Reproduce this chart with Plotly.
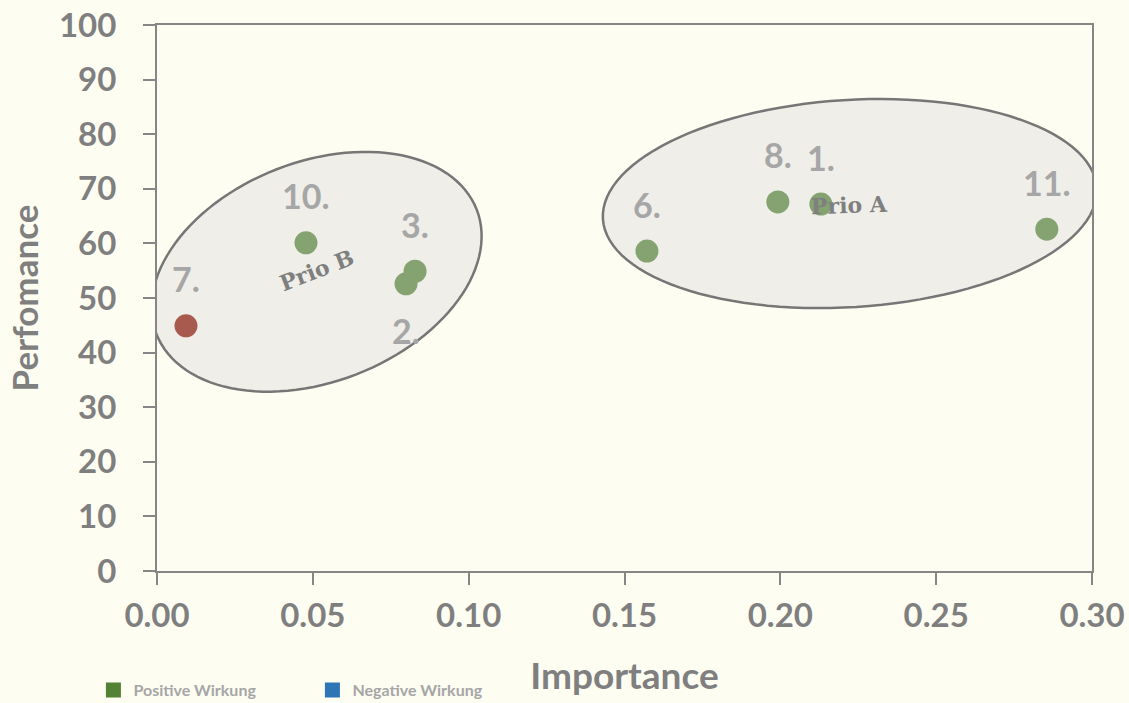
import numpy as np
import plotly.graph_objects as go

# ---- data ----
labels = ["1.", "2.", "3.", "6.", "7.", "8.", "10.", "11."]
importance = [0.213, 0.0799, 0.0828, 0.1572, 0.0093, 0.1992, 0.0478, 0.2855]
performance = [67.2, 52.6, 54.9, 58.6, 44.9, 67.6, 60.1, 62.6]
point_colors = ["#84A371", "#84A371", "#84A371", "#84A371", "#A95A4E", "#84A371", "#84A371", "#84A371"]
label_side = [1, -1, 1, 1, 1, 1, 1, 1]   # +1 above, -1 below

x_ticks = [0.00, 0.05, 0.10, 0.15, 0.20, 0.25, 0.30]
y_ticks = [0, 10, 20, 30, 40, 50, 60, 70, 80, 90, 100]

legend_names = ["Positive Wirkung", "Negative Wirkung"]
legend_colors = ["#548235", "#2E75B6"]

# cluster ellipses: name, centre (x,y), semi-axes (px), rotation (deg), label angle
clusters = [
    dict(name="Prio A", cx=0.2223, cy=67.3, a=247.4, b=103.6, rot=3.6, tx=0.2223, ty=67.0, angle=-2),
    dict(name="Prio B", cx=0.0512, cy=54.8, a=171.8, b=110.0, rot=21.2, tx=0.0513, ty=55.1, angle=-21),
]

# ---- layout geometry ----
W, H = 1129, 703
ml, mr, mt, mb = 157, 37, 25, 132
pw, ph = W - ml - mr, H - mt - mb
xr, yr = [0, 0.30], [0, 100]
kx = pw / (xr[1] - xr[0])
ky = ph / (yr[1] - yr[0])

GRAY = "#7F7F7F"
LGRAY = "#A6A6A6"
AX = "#868686"
BG = "#FDFDF2"
FONT = "Lato"

fig = go.Figure()

shapes = []
for c in clusters:
    t = np.linspace(0, 2 * np.pi, 121)
    th = np.radians(c["rot"])
    dx = c["a"] * np.cos(t) * np.cos(th) - c["b"] * np.sin(t) * np.sin(th)
    dy = c["a"] * np.cos(t) * np.sin(th) + c["b"] * np.sin(t) * np.cos(th)
    xs = c["cx"] + dx / kx
    ys = c["cy"] + dy / ky
    path = "M " + " L ".join(f"{x:.6f},{y:.4f}" for x, y in zip(xs, ys)) + " Z"
    shapes.append(dict(type="path", path=path, xref="x", yref="y", layer="below",
                       fillcolor="#EFEEE8", line=dict(color="#767676", width=2.5)))

fig.add_trace(go.Scatter(
    x=importance, y=performance, mode="markers",
    marker=dict(size=23, color=point_colors, line=dict(width=0)),
    showlegend=False, hoverinfo="x+y",
))

for n, col in zip(legend_names, legend_colors):
    fig.add_trace(go.Scatter(x=[None], y=[None], mode="markers", name=n,
                             marker=dict(symbol="square", size=15, color=col)))

annotations = []
for lab, x, y, s in zip(labels, importance, performance, label_side):
    annotations.append(dict(x=x, y=y, text=lab, showarrow=False, xref="x", yref="y",
                            yshift=47 * s, xanchor="center", yanchor="middle",
                            font=dict(family=FONT, size=34, color=LGRAY, weight="bold")))
for c in clusters:
    annotations.append(dict(x=c["tx"], y=c["ty"], text=c["name"], showarrow=False,
                            xref="x", yref="y", textangle=c["angle"],
                            font=dict(family="DejaVu Serif", size=22, color=GRAY, weight="bold")))

fig.update_layout(
    width=W, height=H,
    margin=dict(l=ml, r=mr, t=mt, b=mb, autoexpand=False),
    paper_bgcolor=BG, plot_bgcolor=BG,
    shapes=shapes, annotations=annotations,
    showlegend=True,
    legend=dict(orientation="h", x=-0.068, y=-0.218, xanchor="left", yanchor="middle",
                font=dict(family=FONT, size=16, color=LGRAY, weight="bold"),
                entrywidth=174, entrywidthmode="pixels", bgcolor="rgba(0,0,0,0)",
                itemclick=False, itemdoubleclick=False),
    xaxis=dict(range=xr, tickvals=x_ticks, ticktext=[f"{v:.2f}" for v in x_ticks],
               showgrid=False, zeroline=False, showline=True, linecolor=AX, linewidth=2,
               mirror=True, ticks="outside", ticklen=12, tickwidth=1.5, tickcolor=AX,
               ticklabelstandoff=2,
               tickfont=dict(family=FONT, size=33, color=GRAY, weight="bold"),
               title=dict(text="Importance", standoff=31,
                          font=dict(family=FONT, size=37, color=GRAY, weight="bold"))),
    yaxis=dict(range=yr, tickvals=y_ticks,
               showgrid=False, zeroline=False, showline=True, linecolor=AX, linewidth=2,
               mirror=True, ticks="outside", ticklen=12, tickwidth=1.5, tickcolor=AX,
               ticklabelstandoff=20,
               tickfont=dict(family=FONT, size=33, color=GRAY, weight="bold"),
               title=dict(text="Perfomance", standoff=10,
                          font=dict(family=FONT, size=35, color=GRAY, weight="bold"))),
)

fig.write_html("out.html", config={"displayModeBar": False},
               post_script="document.body.style.margin='0';")
